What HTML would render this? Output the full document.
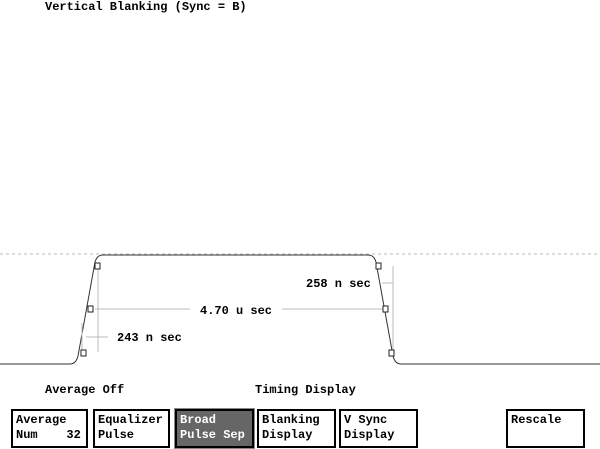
<!DOCTYPE html>
<html><head><style>
body{margin:0;width:600px;height:449px;background:#fff;position:relative;overflow:hidden;font-family:"Liberation Mono",monospace;font-weight:bold;font-size:12px;color:#000}
.t{position:absolute;white-space:pre;line-height:14px}
.b{position:absolute;top:409px;height:33px;border:2px solid #000;box-sizing:content-box;line-height:15px;padding-left:3px;padding-top:2px;white-space:pre}
</style></head><body>
<div class="t" style="left:45px;top:0px">Vertical Blanking (Sync = B)</div>
<svg width="600" height="449" style="position:absolute;left:0;top:0">
<line x1="0" y1="254" x2="600" y2="254" stroke="#bbb" stroke-dasharray="3,3"/>
<path d="M0 364 L70 364 Q76 364 78 356 L95 262 Q97 255 103 255 L368 255 Q374 255 376 262 L393 356 Q395 364 401 364 L600 364" fill="none" stroke="#333" stroke-width="1"/>
<g stroke="#bbb" fill="none">
<line x1="98" y1="266" x2="98" y2="352"/>
<line x1="393" y1="266" x2="393" y2="352"/>
<line x1="82" y1="323" x2="82" y2="352"/>
<line x1="95" y1="309" x2="190" y2="309"/>
<line x1="282" y1="309" x2="384" y2="309"/>
<line x1="86" y1="337" x2="108" y2="337"/>
<line x1="382" y1="283" x2="393" y2="283"/>
</g>
<g fill="#fff" stroke="#222">
<rect x="95" y="263" width="5" height="6"/><rect x="88" y="306" width="5" height="6"/><rect x="81" y="350" width="5" height="6"/>
<rect x="376" y="263" width="5" height="6"/><rect x="383" y="306" width="5" height="6"/><rect x="389" y="350" width="5" height="6"/>
</g>
</svg>
<div class="t" style="left:306px;top:277px">258 n sec</div>
<div class="t" style="left:200px;top:304px">4.70 u sec</div>
<div class="t" style="left:117px;top:331px">243 n sec</div>
<div class="t" style="left:45px;top:383px">Average Off</div>
<div class="t" style="left:255px;top:383px">Timing Display</div>
<div class="b" style="left:11px;width:70px">Average
Num    32</div>
<div class="b" style="left:93px;width:70px">Equalizer
Pulse</div>
<div class="b" style="left:175px;width:72px;background:#666;color:#fff;outline:1px solid #888">Broad
Pulse Sep</div>
<div class="b" style="left:257px;width:72px">Blanking
Display</div>
<div class="b" style="left:339px;width:72px">V Sync
Display</div>
<div class="b" style="left:506px;width:72px">Rescale</div>
</body></html>
